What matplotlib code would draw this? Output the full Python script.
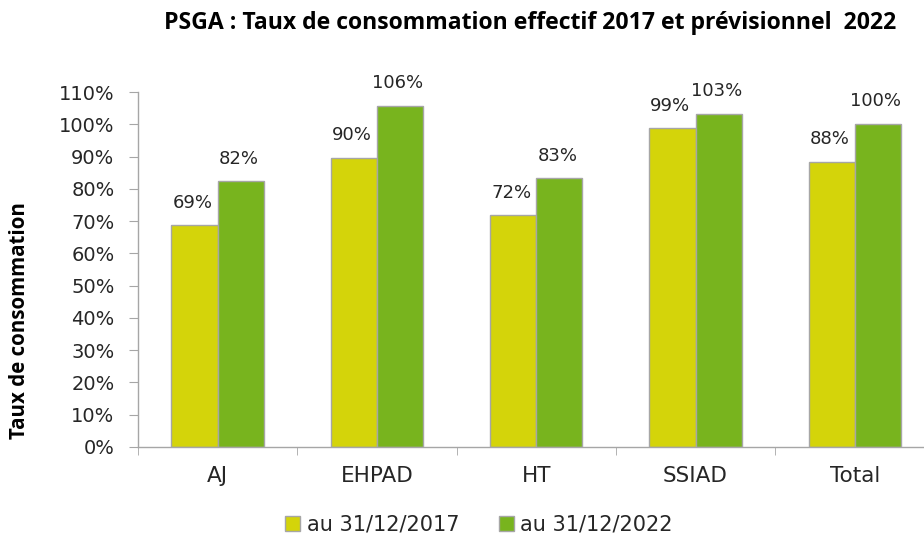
import matplotlib
matplotlib.use("Agg")
import matplotlib.pyplot as plt
import numpy as np

categories = ["AJ", "EHPAD", "HT", "SSIAD", "Total"]
series_names = ["au 31/12/2017", "au 31/12/2022"]
vals_2017 = [0.687, 0.896, 0.718, 0.987, 0.883]
vals_2022 = [0.823, 1.058, 0.832, 1.032, 1.001]
yticks = [i / 10 for i in range(12)]

c2017 = "#d4d40a"
c2022 = "#78b41e"
edge = "#a6a6a6"
txt = "#262626"
FONT = "DejaVu Sans"

fig = plt.figure(figsize=(9.24, 5.39), dpi=100)
W, H = 924, 539
ax = fig.add_axes([138 / W, (539 - 447) / H, 796.5 / W, 355 / H])

x = np.arange(len(categories))
bw = 0.29
b1 = ax.bar(x - bw / 2, vals_2017, bw, color=c2017, edgecolor=edge, linewidth=1, label=series_names[0])
b2 = ax.bar(x + bw / 2, vals_2022, bw, color=c2022, edgecolor=edge, linewidth=1, label=series_names[1])

for bars, vals in ((b1, vals_2017), (b2, vals_2022)):
    for r, v in zip(bars, vals):
        ax.annotate(f"{round(v * 100):d}%", (r.get_x() + r.get_width() / 2, v),
                    xytext=(-1.5, 12.7), textcoords="offset points", ha="center", va="baseline",
                    fontsize=13, family=FONT, color=txt)

ax.set_xlim(-0.5, len(categories) - 0.5)
ax.set_ylim(0, 1.10)
ax.set_yticks(yticks)
ax.set_yticklabels([f"{int(round(t * 100))}%" for t in yticks], family=FONT, fontsize=14, color=txt)
ax.set_xticks(x)
ax.set_xticklabels(categories, family=FONT, fontsize=15.5, color=txt)
ax.tick_params(axis="x", length=0, pad=14)
ax.set_xticks(np.arange(len(categories) + 1) - 0.5, minor=True)
ax.tick_params(axis="x", which="minor", length=6, color=edge, direction="out")
ax.tick_params(axis="y", length=6.5, color=edge, direction="out", pad=10.5)

for s in ("top", "right"):
    ax.spines[s].set_visible(False)
for s in ("left", "bottom"):
    ax.spines[s].set_color(edge)
    ax.spines[s].set_linewidth(1)

fig.text(20 / W, 1 - 321 / H, "Taux de consommation", rotation=90, ha="center", va="center",
         fontsize=14.8, fontweight="bold", family="Open Sans", color="black")
fig.text(530 / W, 1 - 23 / H, "PSGA : Taux de consommation effectif 2017 et prévisionnel  2022",
         ha="center", va="center", fontsize=16.6, fontweight="bold", family="Open Sans", color="black")

leg = fig.legend(handles=[b1, b2], labels=series_names, loc="center", bbox_to_anchor=(479 / W, 1 - 525 / H),
                 ncol=2, frameon=False, prop={"family": FONT, "size": 15},
                 handlelength=0.72, handleheight=0.72, handletextpad=0.3, columnspacing=1.9,
                 borderpad=0.2)
for t in leg.get_texts():
    t.set_color(txt)

fig.savefig("out.png", dpi=100)
